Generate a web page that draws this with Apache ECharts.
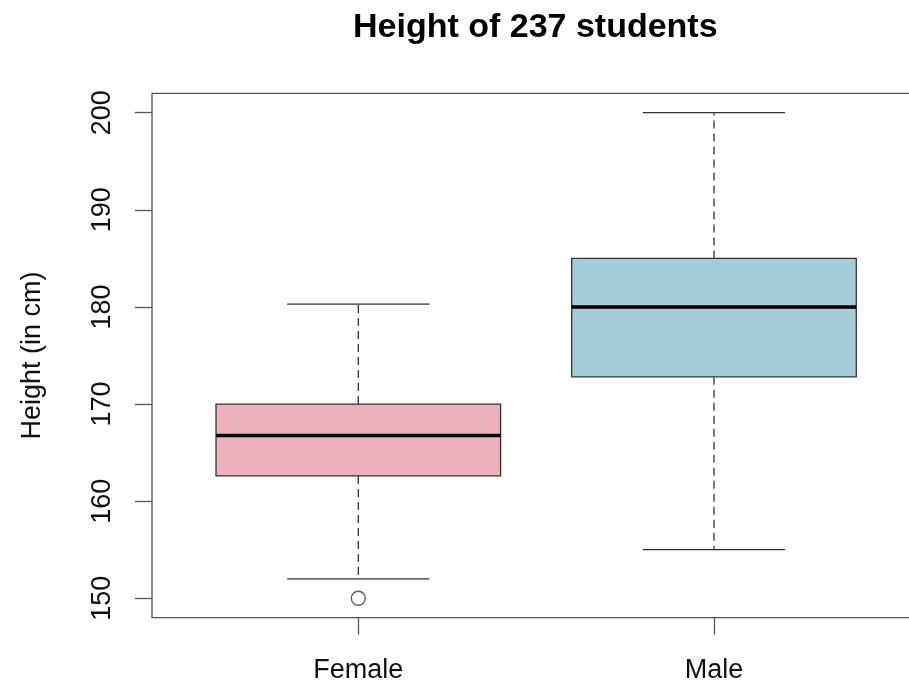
<!DOCTYPE html>
<html>
<head>
<meta charset="utf-8">
<script src="https://cdn.jsdelivr.net/npm/echarts@6/dist/echarts.min.js"></script>
<style>
  html, body { margin: 0; padding: 0; background: #fff; }
  #chart { width: 909px; height: 683px; }
</style>
</head>
<body>
<div id="chart"></div>
<script>
// Five-number summaries of student height (cm) by sex
const groups = ['Female', 'Male'];
const lowerWhisker = [152, 155];
const lowerQuartile = [162.6, 172.8];
const medians = [166.75, 180];
const upperQuartile = [170, 185];
const upperWhisker = [180.3, 200];
// Points beyond the whiskers: [group index, height]
const outliers = [[0, 150]];
const yTicks = [150, 160, 170, 180, 190, 200];
const fills = ['#ECB3BF', '#A6CCDA'];

const FONT = '"Liberation Sans", Arial, Helvetica, sans-serif';
const INK = '#333';

const boxData = groups.map((g, i) => [
  i + 1, lowerWhisker[i], lowerQuartile[i], medians[i], upperQuartile[i], upperWhisker[i], i
]);
const outlierData = outliers.map(o => [o[0] + 1, o[1]]);

function renderBox(params, api) {
  const x = api.value(0);
  const lo = api.coord([x, api.value(1)]);
  const q1 = api.coord([x, api.value(2)]);
  const md = api.coord([x, api.value(3)]);
  const q3 = api.coord([x, api.value(4)]);
  const hi = api.coord([x, api.value(5)]);
  const idx = api.value(6);
  const boxW = api.size([0.8, 0])[0];
  const capW = boxW / 2;
  const cx = lo[0];
  const dash = { stroke: INK, lineWidth: 1.3, lineDash: [8, 5] };
  const solid = { stroke: INK, lineWidth: 1.3 };
  return {
    type: 'group',
    children: [
      { type: 'line', shape: { x1: cx, y1: q3[1], x2: cx, y2: hi[1] }, style: dash },
      { type: 'line', shape: { x1: cx, y1: q1[1], x2: cx, y2: lo[1] }, style: dash },
      { type: 'line', shape: { x1: cx - capW / 2, y1: hi[1], x2: cx + capW / 2, y2: hi[1] }, style: solid },
      { type: 'line', shape: { x1: cx - capW / 2, y1: lo[1], x2: cx + capW / 2, y2: lo[1] }, style: solid },
      {
        type: 'rect',
        shape: { x: cx - boxW / 2, y: q3[1], width: boxW, height: q1[1] - q3[1] },
        style: { fill: fills[idx], stroke: INK, lineWidth: 1.3 }
      },
      { type: 'line', shape: { x1: cx - boxW / 2, y1: md[1], x2: cx + boxW / 2, y2: md[1] }, style: { stroke: '#000', lineWidth: 3.5 } }
    ]
  };
}

const chart = echarts.init(document.getElementById('chart'), null, { renderer: 'canvas' });
chart.setOption({
  animation: false,
  backgroundColor: '#fff',
  title: {
    text: 'Height of 237 students',
    left: 353,
    top: 11,
    padding: 0,
    textStyle: { fontFamily: FONT, fontSize: 34, fontWeight: 'bold', color: '#000' }
  },
  grid: {
    left: 152, width: 768.3, top: 93.3, height: 524.4,
    containLabel: false,
    outerBoundsMode: 'none',
    show: true, borderColor: '#555', borderWidth: 1.3, backgroundColor: 'transparent'
  },
  xAxis: {
    type: 'value',
    min: 0.42,
    max: 2.58,
    splitLine: { show: false },
    axisLine: { show: false },
    axisTick: { show: true, customValues: [1, 2], length: 17, lineStyle: { color: '#555', width: 1.3 } },
    axisLabel: {
      customValues: [1, 2],
      formatter: v => groups[Math.round(v) - 1] || '',
      margin: 39,
      fontFamily: FONT, fontSize: 27, color: '#111'
    }
  },
  yAxis: {
    type: 'value',
    min: 148,
    max: 202,
    name: 'Height (in cm)',
    nameLocation: 'middle',
    nameGap: 106,
    nameRotate: 90,
    nameTextStyle: { fontFamily: FONT, fontSize: 27, color: '#111' },
    splitLine: { show: false },
    axisLine: { show: false },
    axisTick: { show: true, customValues: yTicks, length: 17, lineStyle: { color: '#555', width: 1.3 } },
    axisLabel: {
      customValues: yTicks,
      rotate: 90,
      margin: 36,
      fontFamily: FONT, fontSize: 27, color: '#111'
    }
  },
  series: [
    {
      type: 'custom',
      renderItem: renderBox,
      data: boxData,
      encode: { x: 0, y: [1, 2, 3, 4, 5] },
      silent: true
    },
    {
      type: 'scatter',
      data: outlierData,
      symbol: 'circle',
      symbolSize: 14,
      itemStyle: { color: '#fff', borderColor: INK, borderWidth: 1.4 },
      silent: true
    }
  ]
});
</script>
</body>
</html>
